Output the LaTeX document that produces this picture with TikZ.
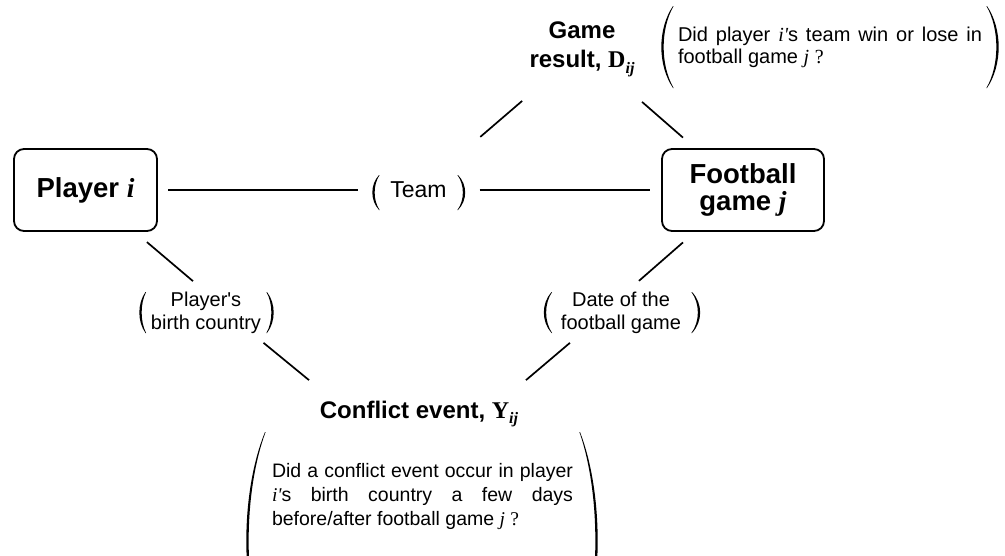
\documentclass[tikz,border=0pt]{standalone}
\usepackage{fontspec}
\setmainfont{Liberation Sans}
\newfontfamily\serifrm{Liberation Serif}
\usetikzlibrary{calc}
\newcommand\mi[1]{{\serifrm\itshape #1}}
\newcommand\subij{\raisebox{-5.5pt}{\fontsize{16}{16}\selectfont\serifrm\itshape ij}}
% #1 = -1 for "(" , +1 for ")"; #2 x of ends; #3 top y; #4 bottom y; #5 bulge
\newcommand\parenshape[5]{%
  \pgfmathsetmacro\pzC{#2+#1*#5/0.75}%
  \pgfmathsetmacro\pzO{\pzC+#1*0.9}%
  \pgfmathsetmacro\pzI{\pzC-#1*2.0}%
  \pgfmathsetmacro\pzE{#2-#1*0.6}%
  \pgfmathsetmacro\pzT{#3+(#4-#3)*0.28}%
  \pgfmathsetmacro\pzB{#4-(#4-#3)*0.28}%
  \fill (#2,#3) .. controls (\pzO,\pzT) and (\pzO,\pzB) .. (#2,#4) -- (\pzE,#4)
        .. controls (\pzI,\pzB) and (\pzI,\pzT) .. (\pzE,#3) -- cycle;
}
\begin{document}
\begin{tikzpicture}[x=1pt,y=-1pt,
  box/.style={draw, line width=1.8pt, rounded corners=10pt, inner sep=0pt, outer sep=0pt, align=center},
  conn/.style={line width=1.7pt},
  lbl/.style={inner sep=0pt, outer sep=0pt, align=center},
  boxfont/.style={font=\fontsize{27.5}{27}\selectfont\bfseries},
  headfont/.style={font=\fontsize{24}{29}\selectfont\bfseries},
  midfont/.style={font=\fontsize{20}{23}\selectfont},
  descbox/.style={inner sep=0pt, outer sep=0pt, align=justify, anchor=north west}
]
\useasboundingbox (0,0) rectangle (1005,555);
\clip (0,0) rectangle (1005,555);

% main boxes
\node[box, boxfont, minimum width=143, minimum height=82] (player) at (85.5,190) {Player \mi{i}};
\node[box, boxfont, minimum width=162, minimum height=82] (football) at (743,190) {Football\\game \mi{j}};

% labels
\node[lbl, font=\fontsize{23}{23}\selectfont] (team) at (418.5,190) {Team};
\node[lbl, headfont] (gameresult) at (582,49.5) {Game\\result, {\serifrm D}\subij};
\node[lbl, midfont] (birth) at (206,313) {Player\textquotesingle s\\birth country};
\node[lbl, midfont] (date) at (621,313) {Date of the\\football game};
\node[lbl, headfont, anchor=base] (conflict) at (419,418) {Conflict event, {\serifrm Y}\subij};

\node[descbox, text width=304, font=\fontsize{20}{21.6}\selectfont] (gamedesc) at (678,27.5)
  {Did player \mi{i\textquotesingle}s team win or lose in\linebreak football game \mi{j} {\serifrm ?}};
\node[descbox, text width=301, font=\fontsize{19.5}{24}\selectfont] (conflictdesc) at (272,463)
  {Did a conflict event occur in player\linebreak \mi{i\textquotesingle}s birth country a few days\linebreak before/after football game \mi{j} {\serifrm ?}};

% parentheses
\parenshape{-1}{379}{175}{210}{6}
\parenshape{1}{458}{175}{210}{6.5}
\parenshape{-1}{145.5}{292}{333}{5.5}
\parenshape{1}{267}{292}{333}{6}
\parenshape{-1}{551.5}{292}{333}{7}
\parenshape{1}{692}{292}{333}{7.5}
\parenshape{-1}{673}{6}{88}{11}
\parenshape{1}{987}{6}{88}{11}
\parenshape{-1}{265}{432}{650}{18}
\parenshape{1}{580}{432}{650}{17}

% connectors
\coordinate (datetop) at ([xshift=5pt]date.north);
\draw[conn] ([xshift=11pt]player.east) -- ([xshift=-32pt]team.west);
\draw[conn] ([xshift=33pt]team.east) -- ([xshift=-12pt]football.west);
\draw[conn] ($(gameresult)!0.366!(team)$) -- ($(gameresult)!0.622!(team)$);
\draw[conn] ($(gameresult)!0.373!(football)$) -- ($(gameresult)!0.627!(football)$);
\draw[conn] ($(player)!0.51!(birth.north)$) -- ($(player)!0.892!(birth.north)$);
\draw[conn] ($(football)!0.513!(datetop)$) -- ($(football)!0.889!(datetop)$);
\draw[conn] ([shift={(2.5,9)}]birth.south east) -- ([shift={(-110,-20.5)}]conflict.north);
\draw[conn] ([shift={(9,9)}]date.south west) -- ([shift={(107,-20.5)}]conflict.north);
\end{tikzpicture}
\end{document}
